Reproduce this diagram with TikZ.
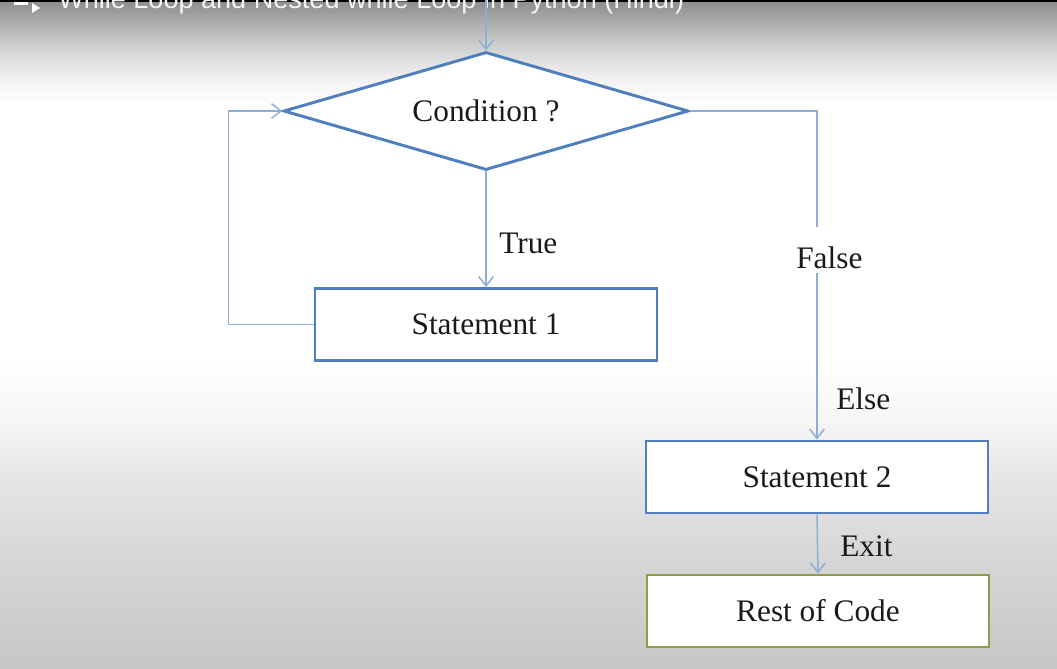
\documentclass[tikz,border=0pt]{standalone}
\usepackage{fontspec}
\setmainfont{Liberation Serif}
\newfontfamily\titlefont{Liberation Sans}
\usetikzlibrary{shapes.geometric,arrows.meta}
\definecolor{boxblue}{HTML}{4F7FBD}
\definecolor{flowblue}{HTML}{8DAFD6}
\definecolor{codegreen}{HTML}{8E9E45}
\definecolor{labelblack}{HTML}{1A1A1A}
% stops 25bp..75bp span the filled rectangle
\pgfdeclareverticalshading{screenbg}{100bp}{color(0bp)=(black!22);color(25bp)=(black!22);color(33.1bp)=(black!16);
  color(39.1bp)=(black!10);color(43.6bp)=(black!3.5);color(48bp)=(white);color(67.1bp)=(white);
  color(69bp)=(black!5);color(70.5bp)=(black!12);color(72bp)=(black!22);color(73.5bp)=(black!34);
  color(75bp)=(black!45);color(100bp)=(black!45)}

\begin{document}
\begin{tikzpicture}[x=0.75pt,y=-0.75pt,
    stmtbox/.style={draw=boxblue,line width=2.2pt,fill=white,minimum width=256.5pt,minimum height=54pt,
      inner sep=0pt,text=labelblack,font=\fontsize{23.5}{28}\selectfont},
    endbox/.style={stmtbox,draw=codegreen},
    condbox/.style={diamond,aspect=3.43,draw=boxblue,line width=2.2pt,fill=white,minimum width=303.75pt,
      minimum height=88.5pt,inner sep=0pt,text=labelblack,font=\fontsize{23.5}{28}\selectfont},
    flow/.style={draw=flowblue,line width=1.1pt,-{Straight Barb[length=7pt,width=11pt]}},
    flowline/.style={draw=flowblue,line width=1.1pt},
    lbl/.style={anchor=base west,inner sep=3pt,text=labelblack,font=\fontsize{23.5}{28}\selectfont}]
  \useasboundingbox (0,0) rectangle (1057,668);
  \clip (0,0) rectangle (1057,668);
  \fill[shading=screenbg] (0,0) rectangle (1057,668);
  \fill[black] (0,0) rectangle (1057,1.5);

  % video title bar
  \fill[white] (14,2) rectangle (28,5);
  \fill[white] (32,3) -- (40,8) -- (32,13) -- cycle;
  \node[anchor=base west,inner sep=0pt,text=white!92!gray,font=\titlefont\fontsize{20.3}{24}\selectfont] (title)
    at (58,8) {While Loop and Nested while Loop in Python (Hindi)};

  % flowchart
  \coordinate (entry) at (486,0);
  \node[condbox] (cond) at (486,111) {Condition ?};
  \node[stmtbox] (st1) at (486,324.5) {Statement 1};
  \node[stmtbox] (st2) at (817,477) {Statement 2};
  \node[endbox] (rest) at (818,611) {Rest of Code};

  \node[lbl] (truelbl) at (495,253) {True};
  \node[lbl] (falselbl) at (792,268) {False};
  \node[lbl] (elselbl) at (832,409) {Else};
  \node[lbl] (exitlbl) at (836,556) {Exit};

  \draw[flow] (entry) -- (cond.north);
  \draw[flow] (cond.south) -- (st1.north);
  \draw[flow] (st1.west) -- ++(-85,0) |- (cond.west);
  \draw[flowline,shorten >=11pt] (cond.east) -| (st2.north |- falselbl.north);
  \draw[flow] (st2.north |- falselbl.south) -- (st2.north);
  \draw[flow] (st2.south) -- (rest.north);
\end{tikzpicture}
\end{document}
